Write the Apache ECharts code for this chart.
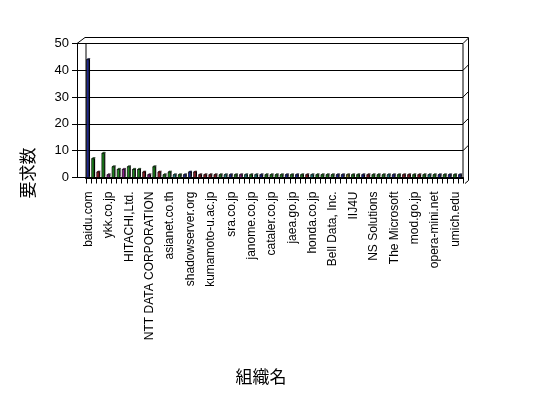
<!DOCTYPE html>
<html><head><meta charset="utf-8">
<script src="https://cdn.jsdelivr.net/npm/echarts@6/dist/echarts.min.js"></script>
<style>html,body{margin:0;padding:0;background:#fff}#c{width:548px;height:398px}</style>
</head><body><div id="c"></div>
<script>
// ---- data ----
const labeledNames = ['baidu.com','ykk.co.jp','HITACHI,Ltd.','NTT DATA CORPORATION','asianet.co.th','shadowserver.org','kumamoto-u.ac.jp','sra.co.jp','janome.co.jp','cataler.co.jp','jaea.go.jp','honda.co.jp','Bell Data, Inc.','IIJ4U','NS Solutions','The Microsoft','mod.go.jp','opera-mini.net','umich.edu'];
const categoryCount = 74;
const categories = Array.from({length: categoryCount}, (_, i) => (i % 4 === 0 ? labeledNames[i / 4] : ''));
const requestCounts = [
  44, 7, 2, 9, 1, 4, 3, 3, 4, 3,
  3, 2, 1, 4, 2, 1, 2, 1, 1, 1,
  2, 2, 1, 1, 1, 1, 1, 1, 1, 1,
  1, 1, 1, 1, 1, 1, 1, 1, 1, 1,
  1, 1, 1, 1, 1, 1, 1, 1, 1, 1,
  1, 1, 1, 1, 1, 1, 1, 1, 1, 1,
  1, 1, 1, 1, 1, 1, 1, 1, 1, 1,
  1, 1, 1, 1
];
const yTicks = [0, 10, 20, 30, 40, 50];
const yAxisTitle = '要求数';
const xAxisTitle = '組織名';

// ---- styles ----
const C = {n:'#1f2a9c', g:'#1f8c1f', m:'#9c1f2a', p:'#8c1f8c', t:'#1f8c8c', o:'#8c8c1f'};
const barColorKeys = 'ngmgpggpgggmpgmggtgnnmmmmmgtngptgtnggggngngmtggggnnoggnmgggtngmmgmgtgngngn';
const barColors = barColorKeys.split('').map(k => C[k]);

const chart = echarts.init(document.getElementById('c'), null, {renderer: 'canvas'});
const FONT = 'Liberation Sans, Arial, sans-serif';
const gridTop = 43.5, gridBottom = 398 - 177.5;

function renderBar(params, api) {
  const i = api.value(0), v = api.value(1);
  const base = api.coord([i, 0]);
  const top = api.coord([i, v]);
  const band = api.size([1, 0])[0];
  const left = base[0] - band / 2 + band * 0.12;
  const w = band * 0.45;
  const d = band * 0.22;
  const color = barColors[i % barColors.length];
  return {
    type: 'group',
    children: [
      {type: 'polygon', shape: {points: [[left + w, top[1]], [left + w + d, top[1] - d], [left + w + d, base[1] - d], [left + w, base[1]]]}, style: {fill: '#000'}},
      {type: 'polygon', shape: {points: [[left, top[1]], [left + d, top[1] - d], [left + w + d, top[1] - d], [left + w, top[1]]]}, style: {fill: color, stroke: '#000', lineWidth: 0.5}},
      {type: 'rect', shape: {x: left, y: top[1], width: w, height: base[1] - top[1]}, style: {fill: color, stroke: '#000', lineWidth: 0.7}}
    ]
  };
}

chart.setOption({
  animation: false,
  backgroundColor: '#fff',
  grid: [
    {left: 77, right: 85, top: gridTop, bottom: gridBottom, containLabel: false},
    {left: 86, right: 85, top: gridTop, bottom: gridBottom, containLabel: false}
  ],
  xAxis: [
    {gridIndex: 0, type: 'value', min: 0, max: 1, show: false},
    {gridIndex: 1, type: 'category', data: categories, boundaryGap: true,
     axisLine: {show: true, lineStyle: {color: '#000', width: 2}},
     axisTick: {show: true, interval: 0, length: 6, lineStyle: {color: '#000', width: 1}},
     axisLabel: {interval: 3, rotate: 90, margin: 14, color: '#000', fontSize: 12, fontFamily: FONT, padding: [5, 0, 0, 0]},
     splitLine: {show: false}}
  ],
  yAxis: [
    {gridIndex: 0, type: 'value', min: yTicks[0], max: yTicks[yTicks.length - 1], interval: 10,
     axisLine: {show: true, lineStyle: {color: '#000', width: 1}},
     axisTick: {show: true, inside: false, length: 5, lineStyle: {color: '#000'}},
     axisLabel: {color: '#000', fontSize: 13, fontFamily: FONT, margin: 8, padding: [3, 0, 0, 0]},
     splitLine: {show: true, lineStyle: {color: '#000', width: 1}}},
    {gridIndex: 1, type: 'value', min: yTicks[0], max: yTicks[yTicks.length - 1], interval: 10, show: false, splitLine: {show: false}}
  ],
  series: [{
    type: 'custom', xAxisIndex: 1, yAxisIndex: 1, z: 5,
    renderItem: renderBar,
    data: requestCounts.map((v, i) => [i, v])
  }]
});

// 3D frame edges derived from the axes
const px = (x, y) => chart.convertToPixel({xAxisIndex: 0, yAxisIndex: 0}, [x, y]);
const [x0, yTopPx] = px(0, 50);
const [x1, yBotPx] = px(1, 0);
const dR = 5.5, dL = 8, dy = 6;
const line = (a, b, c, d2) => ({type: 'line', z: 10, shape: {x1: a, y1: b, x2: c, y2: d2}, style: {stroke: '#000', lineWidth: 1}});
const frame = [];
frame.push(line(x0, yTopPx, x0 + dL, yTopPx - dy));
frame.push(line(x0 + dL, yTopPx - dy, x1 + dR, yTopPx - dy));
frame.push(line(x1 + dR, yTopPx - dy, x1 + dR, yBotPx + 3));
frame.push(line(x1, yTopPx, x1, yBotPx));
frame.push(line(x0 + 9, yTopPx, x0 + 9, yBotPx));
yTicks.forEach(t => {
  const y = px(0, t)[1];
  if (t > 0) frame.push(line(x1, y, x1 + dR, y - dR));
});
frame.push(line(x1 + 2, yBotPx + 6, x1 + dR, yBotPx + 3));
frame.push({type: 'text', z: 10, x: 28, y: 173, rotation: Math.PI / 2,
  style: {text: yAxisTitle, fill: '#000', font: '17px "Noto Sans CJK JP"', align: 'center', verticalAlign: 'middle'}});
frame.push({type: 'text', z: 10, x: 261, y: 377,
  style: {text: xAxisTitle, fill: '#000', font: '17px "Noto Sans CJK JP"', align: 'center', verticalAlign: 'middle'}});
chart.setOption({graphic: frame});
</script>
</body></html>
